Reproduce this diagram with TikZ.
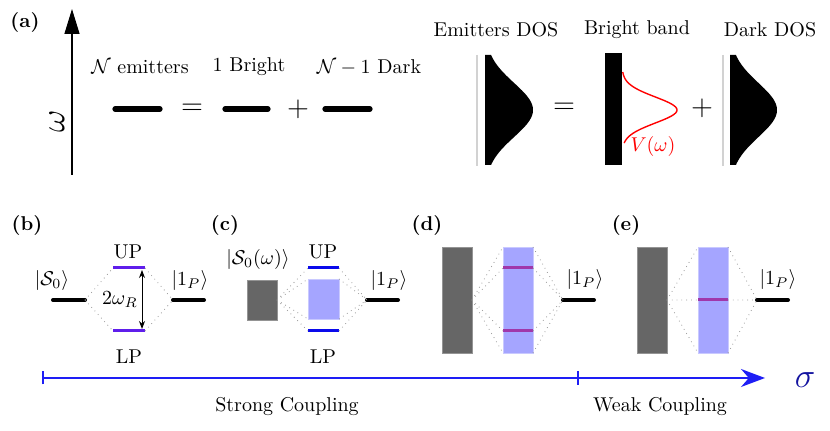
\documentclass[tikz,border=0pt]{standalone}
\usepackage{amsmath}
\usepackage{amssymb}
\usepackage{tikz}
\usetikzlibrary{arrows.meta}

\definecolor{polblue}{RGB}{95,30,235}
\definecolor{upblue}{RGB}{10,10,235}
\definecolor{darkband}{RGB}{102,102,102}
\definecolor{lightband}{RGB}{165,165,255}
\definecolor{mixline}{RGB}{160,55,170}
\definecolor{axisblue}{RGB}{30,30,245}
\definecolor{sigmablue}{RGB}{20,20,160}

\tikzset{
  lvl/.style={line width=2pt, line cap=round},
  biglvl/.style={line width=2.6pt, line cap=round},
  pollvl/.style={polblue, line width=1.5pt},
  uplvl/.style={upblue, line width=1.5pt},
  mixlvl/.style={mixline, line width=1.5pt},
  link/.style={gray!80, dotted, line width=0.4pt},
  darkrect/.style={fill=darkband, draw=darkband!70!white, line width=0.3pt},
  lightrect/.style={fill=lightband, draw=lightband!60!white, line width=0.3pt},
  dosline/.style={gray!35, line width=0.6pt}
}

\begin{document}
\begin{tikzpicture}[x=0.5pt,y=-0.5pt]
            \useasboundingbox (0,0) rectangle (830,431);
            % (a)
            \node (lbla) at (25,22) {\textbf{(a)}};
            \draw[line width=0.7pt, -{Triangle[length=12.5pt,width=7.5pt]}] (72,175) -- (72,9);
            \node[rotate=90] (omg) at (57,121) {\LARGE$\omega$};
            \node (txtN) at (140,67) {$\mathcal{N}$ emitters};
            \node (txtB) at (249,67) {1 Bright};
            \node (txtD) at (369,67) {$\mathcal{N}-1$ Dark};
            \draw[biglvl] (115,109) -- (160,109);
            \node (eqa) at (192,109) {\Large$=$};
            \draw[biglvl] (225,109) -- (268,109);
            \node (plusa) at (298,109) {\Large$+$};
            \draw[biglvl] (325,109) -- (370,109);
            \node (txtEDOS) at (496,30) {Emitters DOS};
            \node (txtBB) at (637,30) {Bright band};
            \node (txtDDOS) at (770,30) {Dark DOS};
            \draw[dosline] (477,55) -- (477,166);
            \fill (485,55) -- plot[variable=\t, domain=55:165, samples=60] ({485+48*exp(-0.5*((\t-110)/27)^2)}, \t) -- (485,165) -- cycle;
            \node (eqb) at (564,108) {\Large$=$};
            \fill (605,53) rectangle (622,165);
            \draw[red, line width=0.7pt] plot[variable=\t, domain=72:143, samples=60] ({622+55*exp(-0.5*((\t-110)/13)^2)}, \t);
            \node[red] (txtV) at (653,147) {$V(\omega)$};
            \node (plusb) at (702,108) {\Large$+$};
            \draw[dosline] (723,55) -- (723,166);
            \fill (730,55) -- plot[variable=\t, domain=55:165, samples=60] ({730+47*exp(-0.5*((\t-110)/27)^2)}, \t) -- (730,165) -- cycle;
            % (b)
            \node (lblb) at (27,225) {\textbf{(b)}};
            \draw[lvl] (53,300) -- (85,300) coordinate (bS);
            \draw[lvl] (173,300) coordinate (bP) -- (204,300);
            \draw[pollvl] (113,268) coordinate (bUl) -- (145,268) coordinate (bUr);
            \draw[pollvl] (113,331) coordinate (bLl) -- (145,331) coordinate (bLr);
            \draw[link] (bS) -- (bUl) (bS) -- (bLl) (bUr) -- (bP) (bLr) -- (bP);
            \draw[{Stealth[length=4pt,width=3pt]}-{Stealth[length=4pt,width=3pt]}, line width=0.5pt] (142,270) -- (142,329);
            \node (txtRabi) at (120,300) {$2\omega_R$};
            \node (txtS0) at (52,281) {$|\mathcal{S}_0\rangle$};
            \node (txtUPb) at (128,252) {UP};
            \node (txtLPb) at (129,357) {LP};
            \node (txtPb) at (190,281) {$|1_P\rangle$};
            % (c)
            \node (lblc) at (225,225) {\textbf{(c)}};
            \draw[darkrect] (247,280) rectangle (277,320);
            \coordinate (cS) at (277,300);
            \draw[lightrect] (308,279) rectangle (339,319);
            \draw[uplvl] (308,268) coordinate (cUl) -- (339,268) coordinate (cUr);
            \draw[uplvl] (308,331) coordinate (cLl) -- (339,331) coordinate (cLr);
            \draw[lvl] (367,300) coordinate (cP) -- (398,300);
            \draw[link] (cS) -- (cUl) (cS) -- (308,279) (cS) -- (308,319) (cS) -- (cLl);
            \draw[link] (cUr) -- (cP) (339,279) -- (cP) (339,319) -- (cP) (cLr) -- (cP);
            \node (txtS0w) at (258,260) {$|\mathcal{S}_0(\omega)\rangle$};
            \node (txtUPc) at (323,252) {UP};
            \node (txtLPc) at (323,357) {LP};
            \node (txtPc) at (389,281) {$|1_P\rangle$};
            % (d)
            \node (lbld) at (427,225) {\textbf{(d)}};
            \draw[darkrect] (442,247) rectangle (472,353);
            \coordinate (dS) at (472,300);
            \draw[lightrect] (503,247) rectangle (533,353);
            \draw[mixlvl] (503,268) coordinate (dUl) -- (533,268) coordinate (dUr);
            \draw[mixlvl] (503,331) coordinate (dLl) -- (533,331) coordinate (dLr);
            \draw[lvl] (563,300) coordinate (dP) -- (594,300);
            \draw[link] (dS) -- (503,247) (dS) -- (dUl) (dS) -- (dLl) (dS) -- (503,353);
            \draw[link] (533,247) -- (dP) (dUr) -- (dP) (dLr) -- (dP) (533,353) -- (dP);
            \node (txtPd) at (585,280) {$|1_P\rangle$};
            % (e)
            \node (lble) at (626,225) {\textbf{(e)}};
            \draw[darkrect] (637,247) rectangle (667,353);
            \coordinate (eS) at (667,300);
            \draw[lightrect] (698,247) rectangle (728,353);
            \draw[mixlvl] (698,300) coordinate (eMl) -- (728,300) coordinate (eMr);
            \draw[lvl] (757,300) coordinate (eP) -- (788,300);
            \draw[link] (eS) -- (698,247) (eS) -- (eMl) (eS) -- (698,353);
            \draw[link] (728,247) -- (eP) (eMr) -- (eP) (728,353) -- (eP);
            \node (txtPe) at (778,280) {$|1_P\rangle$};
            % coupling axis
            \draw[axisblue, line width=0.8pt, {Bar[width=6.5pt]}-{Stealth[length=12pt,width=9pt]}] (42,378) coordinate (sig0) -- (765,378) coordinate (sig1);
            \draw[axisblue, line width=0.8pt] (578,371) -- (578,385);
            \node[sigmablue] (txtsig) at (805,380) {\LARGE$\sigma$};
            \node (txtSC) at (287,407) {Strong Coupling};
            \node (txtWC) at (660,407) {Weak Coupling};
        \end{tikzpicture}
\end{document}
